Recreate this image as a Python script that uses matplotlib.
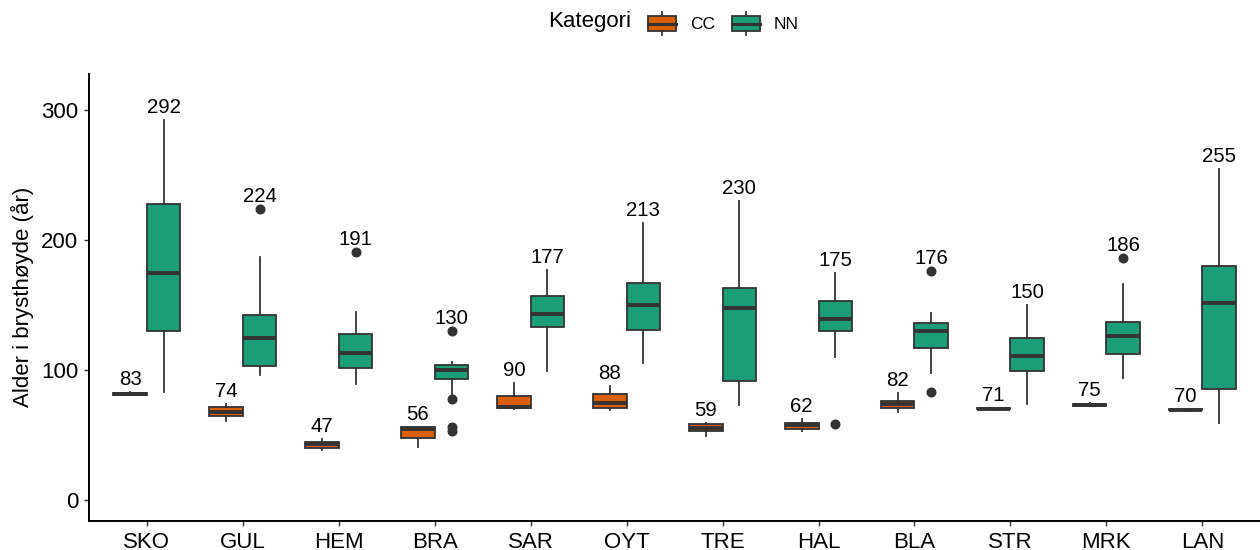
import matplotlib
matplotlib.use("Agg")
import matplotlib.pyplot as plt
from matplotlib.patches import Rectangle, Patch
from matplotlib.lines import Line2D
from matplotlib.legend_handler import HandlerBase

plt.rcParams["font.family"] = ["Liberation Sans", "DejaVu Sans"]

# Sites along the x axis
sites = ["SKO", "GUL", "HEM", "BRA", "SAR", "OYT", "TRE", "HAL", "BLA", "STR", "MRK", "LAN"]

# Box statistics for category CC
cc_whislo = [80.5, 61.0, 38.5, 41.0, 70.0, 69.0, 49.0, 53.0, 68.0, 69.0, 72.0, 68.5]
cc_q1 = [81.0, 64.6, 39.7, 47.4, 70.5, 71.0, 53.0, 54.4, 71.0, 69.8, 72.5, 69.0]
cc_med = [81.5, 67.4, 42.8, 55.0, 71.5, 74.4, 55.6, 57.4, 73.8, 70.3, 73.0, 69.5]
cc_q3 = [82.0, 71.8, 44.9, 55.9, 80.3, 81.3, 58.5, 59.5, 76.2, 71.0, 73.8, 70.0]
cc_whishi = [83, 74, 47, 56, 90, 88, 59, 62, 82, 71, 75, 70]
cc_fliers = [[], [], [], [], [], [], [], [], [], [], [], []]

# Box statistics for category NN
nn_whislo = [83.3, 96.2, 89.0, 80.8, 99.5, 105.1, 73.1, 110.3, 97.9, 73.8, 94.1, 59.0]
nn_q1 = [129.7, 102.8, 101.5, 93.3, 132.8, 130.5, 91.3, 130.0, 116.7, 99.0, 112.6, 85.6]
nn_med = [174.8, 124.6, 112.8, 100.0, 143.1, 150.3, 147.7, 139.5, 130.0, 111.0, 126.2, 151.5]
nn_q3 = [227.4, 142.0, 127.4, 103.8, 156.9, 166.7, 163.3, 153.3, 136.2, 124.4, 136.7, 180.0]
nn_whishi = [292, 186.7, 144.9, 106.2, 177, 213, 230, 175, 143.6, 150, 165.9, 255]
nn_fliers = [[], [224], [191], [130, 77.7, 56.2, 53.4], [], [], [], [58.7],
             [176, 82.8], [], [186], []]

categories = ["CC", "NN"]
colors = {"CC": "#D95F02", "NN": "#1B9E77"}
edge = "#333333"

groups = {
    "CC": (cc_whislo, cc_q1, cc_med, cc_q3, cc_whishi, cc_fliers),
    "NN": (nn_whislo, nn_q1, nn_med, nn_q3, nn_whishi, nn_fliers),
}

fig = plt.figure(figsize=(12.6, 5.5), dpi=100)
W, H = 1260, 550
ax = fig.add_axes([89.3 / W, (H - 520.7) / H, (1259.9 - 89.3) / W, (520.7 - 74) / H])

dodge = 0.35
box_w = 0.35
label_size = 14.7

for k, cat in enumerate(categories):
    lo, q1, med, q3, hi, fl = groups[cat]
    offset = -dodge / 2 if k == 0 else dodge / 2
    stats = []
    positions = []
    for i in range(len(sites)):
        stats.append(dict(whislo=lo[i], q1=q1[i], med=med[i], q3=q3[i],
                          whishi=hi[i], fliers=fl[i]))
        positions.append(i + offset)
    ax.bxp(stats, positions=positions, widths=box_w, patch_artist=True,
           showcaps=False,
           boxprops=dict(facecolor=colors[cat], edgecolor=edge, linewidth=1.3),
           medianprops=dict(color=edge, linewidth=2.8, solid_capstyle="butt"),
           whiskerprops=dict(color=edge, linewidth=1.3),
           flierprops=dict(marker="o", markerfacecolor=edge, markeredgecolor=edge,
                           markersize=6.2, linestyle="none"),
           manage_ticks=False, zorder=2)
    # Maximum value written above each box
    for i, p in enumerate(positions):
        top = max([hi[i]] + list(fl[i]))
        ax.annotate(f"{top:.0f}", xy=(p, top), xytext=(0, 5), textcoords="offset points",
                    ha="center", va="baseline", fontsize=label_size, color="black")

ax.set_xlim(-0.6, len(sites) - 1 + 0.6)
ax.set_ylim(-15.9, 327.7)
ax.set_xticks(range(len(sites)))
ax.set_xticklabels(sites)
ax.set_yticks([0, 100, 200, 300])

for s in ["top", "right"]:
    ax.spines[s].set_visible(False)
for s in ["left", "bottom"]:
    ax.spines[s].set_color("black")
    ax.spines[s].set_linewidth(1.4)

ax.tick_params(axis="both", colors=edge, length=3.8, width=1.0, pad=4,
               labelsize=16, labelcolor="black")

ax.set_ylabel("Alder i brysthøyde (år)", fontsize=16, color="black", va="center")
ax.yaxis.set_label_coords((22.5 - 89.3) / (1259.9 - 89.3), 0.5)


class BoxKeyHandler(HandlerBase):
    def create_artists(self, legend, orig_handle, xdescent, ydescent, width, height,
                       fontsize, trans):
        fc = orig_handle.get_facecolor()
        x0, y0 = -xdescent, -ydescent
        bh = height * 0.66
        by = y0 + (height - bh) / 2
        rect = Rectangle((x0, by), width, bh, facecolor=fc, edgecolor=edge,
                         linewidth=1.3, transform=trans)
        xm = x0 + width / 2
        med = Line2D([x0, x0 + width], [y0 + height / 2] * 2, color=edge,
                     linewidth=2.2, transform=trans)
        wt = Line2D([xm, xm], [by + bh, y0 + height], color=edge, linewidth=1.3,
                    transform=trans)
        wb = Line2D([xm, xm], [y0, by], color=edge, linewidth=1.3, transform=trans)
        return [rect, wt, wb, med]


handles = [Patch(facecolor=colors[c], edgecolor=edge) for c in categories]
fig.text(548 / W, 1 - 22 / H, "Kategori", fontsize=16, ha="left", va="center")
leg = fig.legend(handles, categories, loc="center left",
                 bbox_to_anchor=(648 / W, 1 - 23.5 / H), ncol=2, frameon=False,
                 fontsize=12.5, handlelength=1.6, handleheight=1.6,
                 handletextpad=0.8, columnspacing=1.0, borderpad=0, borderaxespad=0,
                 handler_map={Patch: BoxKeyHandler()})

fig.savefig("out.png", dpi=100)
